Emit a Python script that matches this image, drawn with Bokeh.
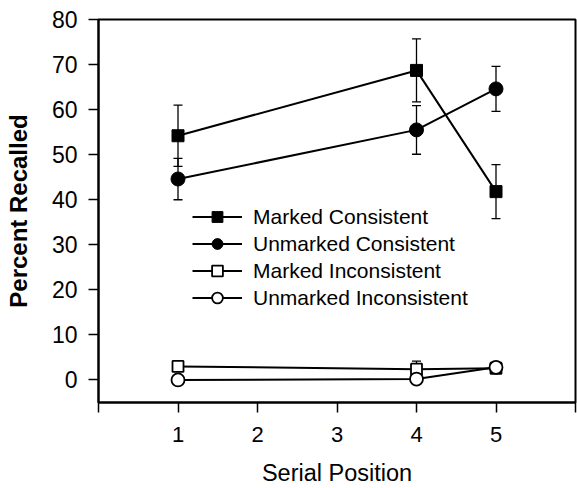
from bokeh.plotting import figure
from bokeh.models import (ColumnDataSource, Whisker, TeeHead, Legend, LegendItem,
                          FixedTicker, Range1d)
from bokeh.embed import file_html
from bokeh.resources import INLINE

# ---- data ----
positions = [1, 4, 5]
marked_consistent = [54.2, 68.7, 41.8]
marked_consistent_err = [6.8, 7.0, 6.0]
unmarked_consistent = [44.6, 55.5, 64.6]
unmarked_consistent_err = [4.6, 5.4, 5.0]
marked_inconsistent = [3.0, 2.4, 2.6]
marked_inconsistent_err = [0.8, 1.8, 0.8]
unmarked_inconsistent = [0.0, 0.2, 2.8]
unmarked_inconsistent_err = [0.3, 0.3, 0.6]

series = [
    ("Marked Consistent", marked_consistent, marked_consistent_err, "square", "black", 12),
    ("Unmarked Consistent", unmarked_consistent, unmarked_consistent_err, "circle", "black", 14),
    ("Marked Inconsistent", marked_inconsistent, marked_inconsistent_err, "square", "white", 11),
    ("Unmarked Inconsistent", unmarked_inconsistent, unmarked_inconsistent_err, "circle", "white", 13),
]

x_ticks = [0, 1, 2, 3, 4, 5, 6]
y_ticks = [0, 10, 20, 30, 40, 50, 60, 70, 80]
x_title = "Serial Position"
y_title = "Percent Recalled"

FONT = "Liberation Sans"

p = figure(width=577, height=488, output_backend="svg", toolbar_location=None,
           x_range=Range1d(0, 6), y_range=Range1d(-5, 80),
           min_border_left=98, min_border_right=2, min_border_top=19, min_border_bottom=86)
p.background_fill_color = "white"
p.border_fill_color = "white"
p.xgrid.visible = False
p.ygrid.visible = False
p.outline_line_color = "black"
p.outline_line_width = 2

# axes
p.xaxis.ticker = FixedTicker(ticks=x_ticks)
p.xaxis.major_label_overrides = {0: "", 6: ""}
p.yaxis.ticker = FixedTicker(ticks=y_ticks)
for ax in (p.xaxis[0], p.yaxis[0]):
    ax.axis_line_color = "black"
    ax.axis_line_width = 2
    ax.major_tick_line_color = "black"
    ax.major_tick_line_width = 1.5
    ax.major_tick_in = 0
    ax.major_tick_out = 10
    ax.minor_tick_line_color = None
    ax.major_label_text_font = FONT
    ax.major_label_text_color = "black"
    ax.axis_label_text_font = FONT
    ax.axis_label_text_color = "black"

p.xaxis.major_label_text_font_size = "22px"
p.xaxis.major_label_standoff = 14
p.xaxis.axis_label = x_title
p.xaxis.axis_label_text_font_style = "normal"
p.xaxis.axis_label_text_font_size = "23.5px"
p.xaxis.axis_label_standoff = 15

p.yaxis.major_label_text_font_size = "23px"
p.yaxis.major_label_standoff = 11
p.yaxis.axis_label = y_title
p.yaxis.axis_label_text_font_style = "bold"
p.yaxis.axis_label_text_font_size = "24px"
p.yaxis.axis_label_standoff = 17

items = []
for name, vals, errs, marker, fill, size in series:
    src = ColumnDataSource(dict(
        x=positions, y=vals,
        upper=[v + e for v, e in zip(vals, errs)],
        lower=[v - e for v, e in zip(vals, errs)],
    ))
    w = Whisker(base="x", upper="upper", lower="lower", source=src,
                line_color="black", line_width=1.3, level="underlay",
                upper_head=TeeHead(size=9, line_color="black", line_width=1.3),
                lower_head=TeeHead(size=9, line_color="black", line_width=1.3))
    p.add_layout(w)
    lr = p.line("x", "y", source=src, line_color="black", line_width=2)
    sr = p.scatter("x", "y", source=src, marker=marker, size=size,
                   fill_color=fill, line_color="black",
                   line_width=1 if fill == "black" else 1.8)
    items.append(LegendItem(label=name, renderers=[lr, sr]))

legend = Legend(items=items, location=(94, 91), padding=0, margin=0,
                spacing=0, glyph_width=50, glyph_height=27, label_height=27,
                label_standoff=11, border_line_color=None,
                background_fill_alpha=0,
                label_text_font=FONT, label_text_font_size="21px",
                label_text_color="black")
p.add_layout(legend)

open("out.html", "w").write(file_html(p, INLINE))
